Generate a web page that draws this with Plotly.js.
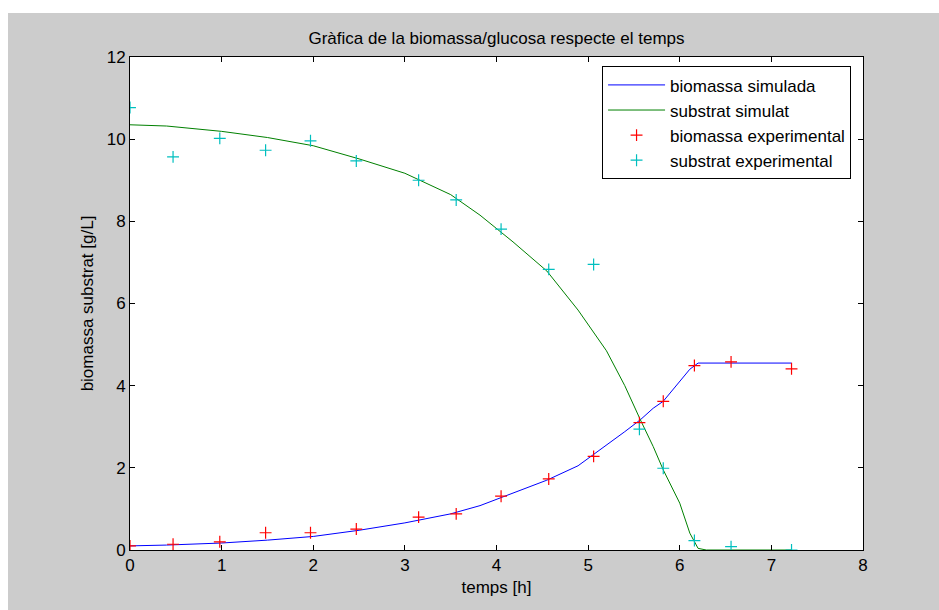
<!DOCTYPE html>
<html>
<head>
<meta charset="utf-8">
<script src="https://cdn.plot.ly/plotly-3.0.1.min.js"></script>
<style>
  html, body { margin: 0; padding: 0; background: #ffffff; }
  #chart { position: absolute; left: 8px; top: 13px; width: 931px; height: 597px; }
</style>
</head>
<body>
<div id="chart"></div>
<script>
// Simulated model output (time in hours)
const tSim = [0, 0.4, 1.0, 1.5, 2.0, 2.5, 3.0, 3.5, 3.82, 4.18, 4.55, 4.89, 5.2, 5.4, 5.57, 5.71, 5.82, 6.0, 6.11, 6.2, 6.29, 7.22];
const biomassaSim = [0.10, 0.12, 0.17, 0.24, 0.33, 0.48, 0.66, 0.88, 1.08, 1.38, 1.70, 2.05, 2.55, 2.88, 3.17, 3.45, 3.62, 4.10, 4.40, 4.55, 4.55, 4.55];
const substratSim = [10.35, 10.32, 10.19, 10.04, 9.84, 9.52, 9.17, 8.65, 8.15, 7.50, 6.79, 5.84, 4.85, 4.00, 3.17, 2.52, 1.95, 1.14, 0.41, 0.04, 0.0, 0.0];

// Experimental measurements
const tExp = [0, 0.47, 0.98, 1.48, 1.97, 2.47, 3.15, 3.56, 4.05, 4.57, 5.06, 5.56, 5.82, 6.16, 6.56, 7.22];
const biomassaExp = [0.10, 0.14, 0.20, 0.42, 0.42, 0.51, 0.80, 0.88, 1.31, 1.73, 2.28, 3.10, 3.62, 4.49, 4.58, 4.41];
const substratExp = [10.77, 9.57, 10.02, 9.73, 9.96, 9.47, 9.00, 8.52, 7.81, 6.83, 6.95, 2.94, 1.99, 0.23, 0.08, 0.0];

const xTicks = [0, 1, 2, 3, 4, 5, 6, 7, 8];
const yTicks = [0, 2, 4, 6, 8, 10, 12];

const font = { family: 'Liberation Sans, Arial, Helvetica, sans-serif', size: 17, color: '#000000' };

const traces = [
  { x: tSim, y: biomassaSim, mode: 'lines', name: 'biomassa simulada',
    line: { color: '#0000ff', width: 1 } },
  { x: tSim, y: substratSim, mode: 'lines', name: 'substrat simulat',
    line: { color: '#008000', width: 1 } },
  { x: tExp, y: biomassaExp, mode: 'markers', name: 'biomassa experimental',
    marker: { symbol: 'cross-thin-open', size: 8.5, color: '#ff0000', line: { color: '#ff0000', width: 1.2 } } },
  { x: tExp, y: substratExp, mode: 'markers', name: 'substrat experimental',
    marker: { symbol: 'cross-thin-open', size: 8.5, color: '#00bfbf', line: { color: '#00bfbf', width: 1.2 } } }
];

const axisCommon = {
  showgrid: false, zeroline: false, showline: true, mirror: 'ticks',
  linecolor: '#000000', linewidth: 1, ticks: 'inside', ticklen: 5,
  tickcolor: '#000000', tickwidth: 1, tickfont: font
};

const layout = {
  width: 931, height: 597,
  paper_bgcolor: '#cccccc', plot_bgcolor: '#ffffff',
  margin: { l: 122, r: 76, t: 44, b: 60 },
  font: font,
  title: { text: 'Gràfica de la biomassa/glucosa respecte el temps', font: font,
           x: 0.5, xref: 'paper', y: 1, yref: 'paper', yanchor: 'bottom', pad: { b: 13 } },
  xaxis: Object.assign({}, axisCommon, {
    range: [0, 8], tickvals: xTicks, ticktext: xTicks.map(String),
    title: { text: 'temps [h]', font: font, standoff: 6 }
  }),
  yaxis: Object.assign({}, axisCommon, {
    range: [0, 12], tickvals: yTicks, ticktext: yTicks.map(String),
    title: { text: 'biomassa substrat [g/L]', font: font, standoff: 8 }
  }),
  legend: {
    x: 0.644, y: 0.981, xanchor: 'left', yanchor: 'top',
    bgcolor: '#ffffff', bordercolor: '#000000', borderwidth: 1,
    font: font, itemwidth: 57
  },
  showlegend: true
};

Plotly.newPlot('chart', traces, layout, { staticPlot: true, displayModeBar: false });
</script>
</body>
</html>
